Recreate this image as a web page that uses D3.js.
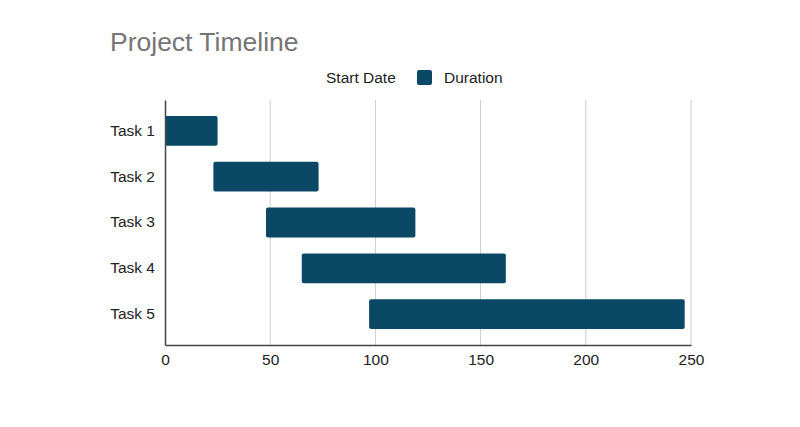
<!DOCTYPE html>
<html>
<head>
<meta charset="utf-8">
<script src="https://cdn.jsdelivr.net/npm/d3@7"></script>
<style>
  body { margin: 0; background: #fff; }
  svg { font-family: Arial, "Liberation Sans", sans-serif; }
</style>
</head>
<body>
<div id="chart"></div>
<script>
const tasks = ["Task 1", "Task 2", "Task 3", "Task 4", "Task 5"];
const startDates = [0, 23, 48, 65, 97];
const durations = [25, 50, 71, 97, 150];
const xTicks = [0, 50, 100, 150, 200, 250];

const width = 800, height = 427;
const margin = { top: 100, right: 109, bottom: 82, left: 165 };
const font = "Arial, 'Liberation Sans', sans-serif";

const svg = d3.select("#chart")
  .append("svg")
  .attr("width", width)
  .attr("height", height);

const x = d3.scaleLinear().domain([0, 250]).range([margin.left, width - margin.right]);
const y = d3.scaleBand().domain(tasks).range([margin.top, height - margin.bottom]).padding(0.35);

const data = tasks.map((t, i) => ({ task: t, start: startDates[i], dur: durations[i] }));

// Title
svg.append("text")
  .attr("x", 110)
  .attr("y", 51)
  .style("font-size", "26.5px")
  .style("fill", "#757575")
  .text("Project Timeline");

// Legend
const legend = svg.append("g");
legend.append("text")
  .attr("x", 326).attr("y", 83)
  .style("font-size", "15.5px").style("fill", "#222")
  .text("Start Date");
legend.append("rect")
  .attr("x", 417).attr("y", 70)
  .attr("width", 15).attr("height", 15)
  .attr("rx", 2)
  .style("fill", "#0b4866");
legend.append("text")
  .attr("x", 444).attr("y", 83)
  .style("font-size", "15.5px").style("fill", "#222")
  .text("Duration");

// Gridlines
svg.append("g")
  .selectAll("line")
  .data(xTicks.filter(d => d > 0))
  .enter()
  .append("line")
  .attr("x1", d => x(d)).attr("x2", d => x(d))
  .attr("y1", margin.top).attr("y2", height - margin.bottom)
  .style("stroke", "#cccccc")
  .style("stroke-width", 1);

// Start date (invisible) series
svg.append("g")
  .selectAll("rect")
  .data(data)
  .enter()
  .append("rect")
  .attr("x", x(0))
  .attr("y", d => y(d.task))
  .attr("width", d => x(d.start) - x(0))
  .attr("height", y.bandwidth())
  .style("fill", "none");

// Duration bars
svg.append("g")
  .selectAll("rect")
  .data(data)
  .enter()
  .append("rect")
  .attr("x", d => x(d.start))
  .attr("y", d => y(d.task))
  .attr("width", d => x(d.start + d.dur) - x(d.start))
  .attr("height", y.bandwidth())
  .attr("rx", 2)
  .style("fill", "#0b4866");

// X axis
svg.append("g")
  .attr("transform", `translate(0,${height - margin.bottom})`)
  .call(d3.axisBottom(x).tickValues(xTicks).tickSize(0).tickPadding(9))
  .call(g => g.select(".domain").style("stroke", "#444").style("stroke-width", 1.5))
  .call(g => g.selectAll("text").style("font-size", "15.5px").style("fill", "#222")
    .style("font-family", font));

// Y axis
svg.append("g")
  .attr("transform", `translate(${margin.left},0)`)
  .call(d3.axisLeft(y).tickSize(0).tickPadding(10))
  .call(g => g.select(".domain").style("stroke", "#444").style("stroke-width", 1.5))
  .call(g => g.selectAll("text").style("font-size", "15.5px").style("fill", "#222")
    .style("font-family", font));
</script>
</body>
</html>
